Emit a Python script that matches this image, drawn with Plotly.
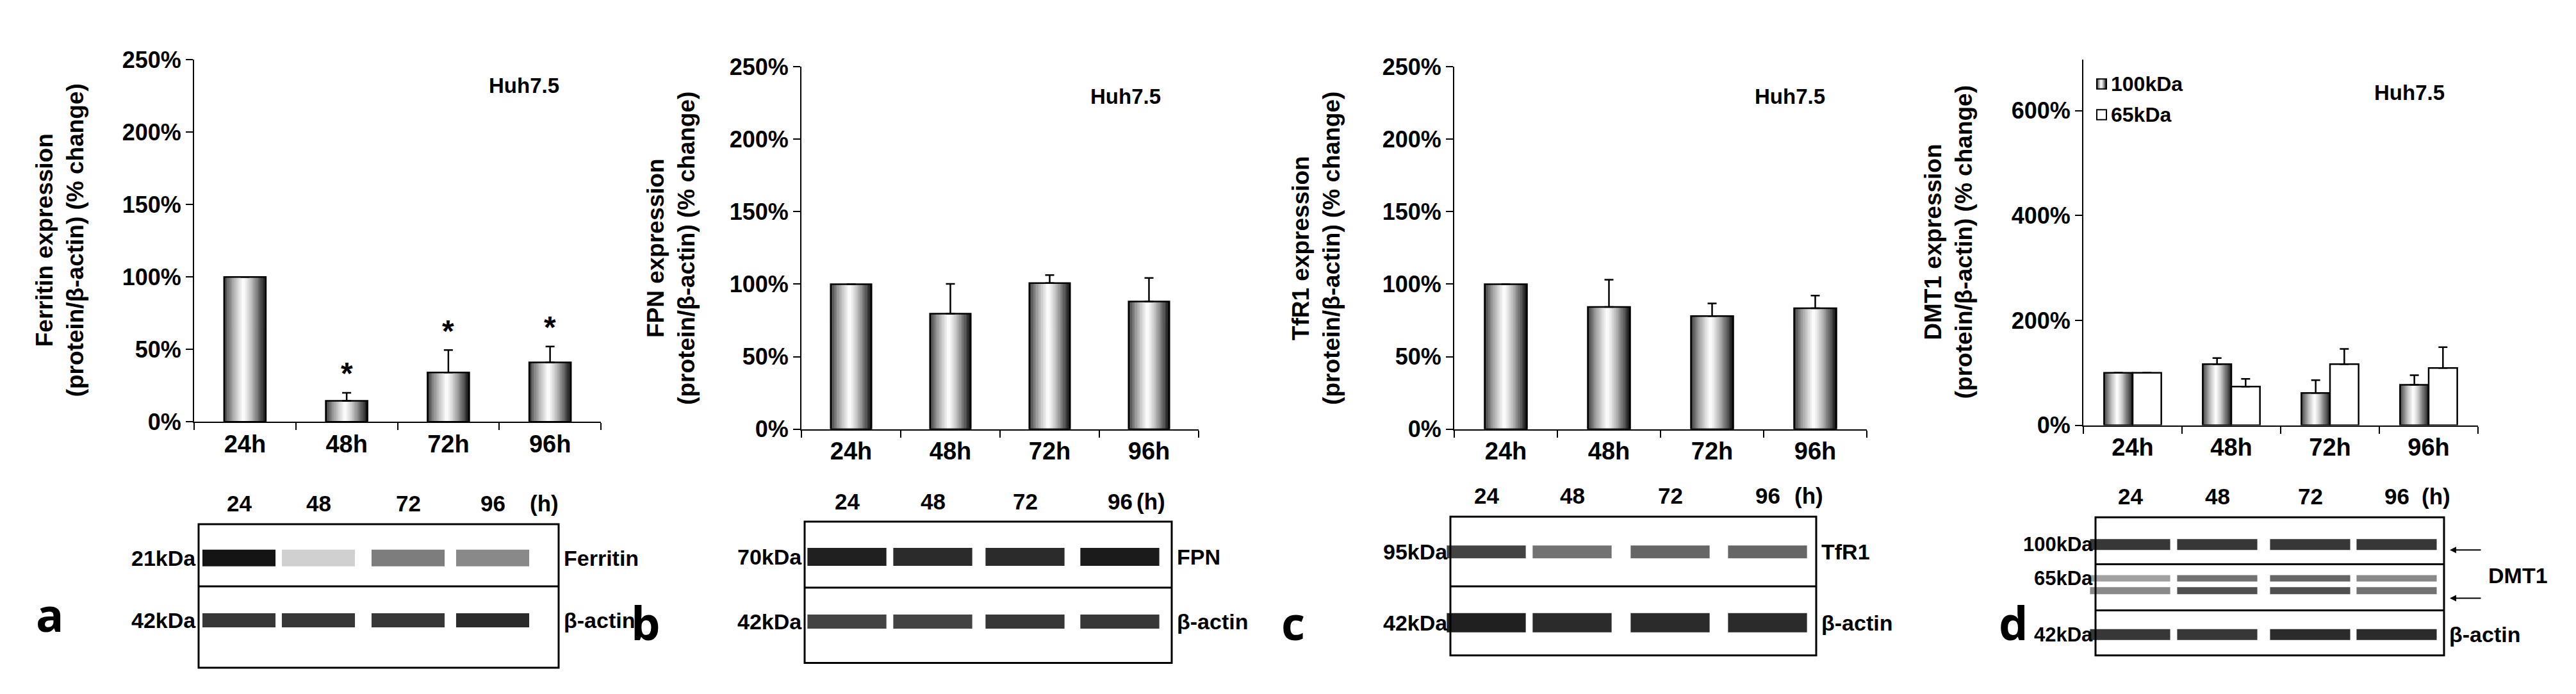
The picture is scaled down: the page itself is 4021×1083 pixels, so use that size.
import plotly.graph_objects as go

W, H = 4021, 1083

# ---- data ----
hours = ["24h", "48h", "72h", "96h"]
lanes = ["24", "48", "72", "96"]

ferritin = [100, 14.5, 34, 41]
ferritin_err = [0, 5.5, 15.5, 11]
fpn = [100, 79.6, 100.8, 88.1]
fpn_err = [0, 20.6, 5.5, 16.2]
tfr1 = [100, 84.3, 78, 83.4]
tfr1_err = [0, 18.8, 8.7, 8.7]
dmt1_100 = [100, 116.6, 61.5, 77]
dmt1_100_err = [0, 11.4, 24.3, 18.5]
dmt1_65 = [100, 73.7, 116.6, 109.3]
dmt1_65_err = [0, 14.6, 29, 39.7]
stars = ["", "*", "*", "*"]

# band intensities read from the blots (0..1)
blot_ferritin = [1.0, 0.2, 0.55, 0.5]
blot_fpn = [0.95, 0.9, 0.9, 0.97]
blot_tfr1 = [0.8, 0.6, 0.65, 0.65]
blot_dmt1_100 = [0.85, 0.85, 0.85, 0.85]
blot_dmt1_65a = [0.4, 0.6, 0.65, 0.5]
blot_dmt1_65b = [0.5, 0.75, 0.75, 0.6]
actin_a = [0.85, 0.85, 0.85, 0.9]
actin_b = [0.8, 0.8, 0.85, 0.85]
actin_c = [0.95, 0.9, 0.9, 0.9]
actin_d = [0.85, 0.85, 0.9, 0.9]

FONT = "Liberation Sans"
NARROW = "Liberation Sans Narrow, Liberation Sans"


def px(x):
    return x / W


def py(y):
    return 1 - y / H


def shade(t):
    # cylinder-like grey gradient: dark left, white ~45%, very dark right
    if t < 0.45:
        v = 0.2 + 0.8 * (t / 0.45) ** 0.7
    else:
        v = 1.0 - 0.92 * ((t - 0.45) / 0.55) ** 1.3
    g = int(255 * max(0, min(1, v)))
    return f"rgb({g},{g},{g})"


def label(x, y, text, size, family=FONT, anchor="center", **kw):
    d = dict(x=px(x), y=py(y), xref="paper", yref="paper", text=f"<b>{text}</b>",
             showarrow=False, xanchor=anchor, yanchor="middle",
             font=dict(size=size, family=family, color="black"))
    d.update(kw)
    return d


fig = go.Figure()

# panel: (axis suffix, x range px, y range px, ymax, dtick, ylabel)
panels = [
    ("", (295, 930), (67.7, 655), 250, 50, "Ferritin expression"),
    ("2", (1243, 1863), (79, 667), 250, 50, "FPN expression"),
    ("3", (2262, 2906), (79, 667), 250, 50, "TfR1 expression"),
    ("4", (3244, 3860), (67.7, 660.6), 697, 200, "DMT1 expression"),
]

xpos = list(range(len(hours)))


def grad_bars(ax, vals, err, offset, width, gradient=True, n=24):
    xa, ya = "x" + ax, "y" + ax
    if gradient:
        for i in range(n):
            fig.add_trace(go.Bar(
                x=xpos, y=vals, xaxis=xa, yaxis=ya,
                offset=offset + i * width / n, width=width / n + 0.002,
                marker=dict(color=shade(i / (n - 1)), line=dict(width=0)),
                hoverinfo="skip", showlegend=False))
    fig.add_trace(go.Bar(
        x=xpos, y=vals, xaxis=xa, yaxis=ya, offset=offset, width=width,
        marker=dict(color="rgba(255,255,255,0)" if gradient else "white",
                    line=dict(color="black", width=2.5)),
        error_y=dict(type="data", array=err, arrayminus=[0] * len(err),
                     symmetric=False, color="black", thickness=2.5, width=7),
        showlegend=False))


grad_bars("", ferritin, ferritin_err, -0.205, 0.41)
grad_bars("2", fpn, fpn_err, -0.205, 0.41)
grad_bars("3", tfr1, tfr1_err, -0.205, 0.41)
grad_bars("4", dmt1_100, dmt1_100_err, -0.29, 0.29)
grad_bars("4", dmt1_65, dmt1_65_err, 0.0, 0.29, gradient=False)

layout = dict(width=W, height=H, paper_bgcolor="white", plot_bgcolor="white",
              margin=dict(l=0, r=0, t=0, b=0), barmode="overlay",
              font=dict(family=FONT, color="black"))
annotations = []
shapes = []

for ax, (x0, x1), (y0, y1), ymax, dt, lab in panels:
    layout["xaxis" + ax] = dict(
        domain=[px(x0), px(x1)], range=[-0.5, 3.5], tickvals=xpos,
        ticktext=[f"<b>{h}</b>" for h in hours],
        showline=True, linecolor="black", linewidth=2, ticks="",
        showgrid=False, zeroline=False, anchor="y" + ax,
        tickfont=dict(size=38, family=FONT),
        minor=dict(tickvals=[-0.5, 0.5, 1.5, 2.5, 3.5], ticks="outside",
                   ticklen=11, tickwidth=2, tickcolor="black", showgrid=False))
    yt = list(range(0, int(ymax) + 1, dt))
    layout["yaxis" + ax] = dict(
        domain=[py(y1), py(y0)], range=[0, ymax], tickvals=yt,
        ticktext=[f"<b>{v}%</b>" for v in yt],
        showline=True, linecolor="black", linewidth=2, ticks="outside",
        ticklen=11, tickwidth=2, tickcolor="black", showgrid=False,
        zeroline=False, anchor="x" + ax,
        tickfont=dict(size=36, family=FONT))

# y titles and "Huh7.5"
ytitles = [(85, 361), (1040, 374), (2047, 374), (3033, 364)]
huh = [(810, 110), (1749, 127), (2786, 127), (3753, 121)]
for (ax, _, _, _, _, lab), (tx, ty), (hx, hy) in zip(panels, ytitles, huh):
    annotations.append(label(tx, ty, f"{lab}<br>(protein/β-actin) (% change)",
                             37, textangle=-90))
    annotations.append(label(hx, hy, "Huh7.5", 33))

# significance stars
for i, s in enumerate(stars):
    if s:
        annotations.append(dict(x=i, y=ferritin[i] + ferritin_err[i], xref="x",
                                yref="y", text=f"<b>{s}</b>", showarrow=False,
                                yshift=30, yanchor="middle",
                                font=dict(size=48, family=FONT)))

# DMT1 legend
for (ly, name, grad) in [(107, "100kDa", True), (157, "65kDa", False)]:
    lx0, lx1 = 3265, 3280
    if grad:
        n = 8
        for i in range(n):
            shapes.append(dict(type="rect", xref="paper", yref="paper",
                               x0=px(lx0 + i * (lx1 - lx0) / n),
                               x1=px(lx0 + (i + 1) * (lx1 - lx0) / n),
                               y0=py(ly + 8), y1=py(ly - 8),
                               fillcolor=shade(i / (n - 1)), line=dict(width=0)))
    shapes.append(dict(type="rect", xref="paper", yref="paper",
                       x0=px(lx0), x1=px(lx1), y0=py(ly + 8), y1=py(ly - 8),
                       line=dict(color="black", width=2)))
    annotations.append(label(lx1 + 5, ly, name, 32, anchor="left"))

# panel letters
for letter, lx, ly in [("a", 70, 967), ("b", 1000, 980), ("c", 2010, 980), ("d", 3135, 980)]:
    annotations.append(label(lx, ly, letter, 72, family="Open Sans"))

# western blots: box, rows (label left, label right, centre y, intensities, thickness)
blots = [
    dict(box=(302, 864, 821, 1054), div=[922], lab_y=787, fs=34,
         lane_x=[365, 489, 629, 761], h_x=841,
         rows=[("21kDa", "Ferritin", 876, blot_ferritin, 26),
               ("42kDa", "β-actin", 977, actin_a, 22)]),
    dict(box=(1248, 1821, 817, 1046), div=[924], lab_y=784, fs=34,
         lane_x=[1314, 1448, 1592, 1740], h_x=1788,
         rows=[("70kDa", "FPN", 874, blot_fpn, 28),
               ("42kDa", "β-actin", 979, actin_b, 22)]),
    dict(box=(2256, 2827, 809, 1034), div=[922], lab_y=775, fs=34,
         lane_x=[2312, 2446, 2599, 2751], h_x=2815,
         rows=[("95kDa", "TfR1", 866, blot_tfr1, 20),
               ("42kDa", "β-actin", 981, actin_c, 30)]),
    dict(box=(3263, 3807, 810, 1034), div=[886, 961], lab_y=776, fs=31,
         lane_x=[3317, 3453, 3598, 3733], h_x=3794,
         rows=[("100kDa", "", 854, blot_dmt1_100, 17),
               ("65kDa", "", 909, blot_dmt1_65a, 10),
               ("", "", 929, blot_dmt1_65b, 11),
               ("42kDa", "β-actin", 1000, actin_d, 17)]),
]

for b in blots:
    bx0, bx1, by0, by1 = b["box"]
    for lx, ln in zip(b["lane_x"], lanes):
        annotations.append(label(lx, b["lab_y"], ln, 35, family=NARROW))
    annotations.append(label(b["h_x"], b["lab_y"], "(h)", 35, family=NARROW))
    half = (b["lane_x"][1] - b["lane_x"][0]) * 0.46
    for left, right, cy, vals, thick in b["rows"]:
        for lx, v in zip(b["lane_x"], vals):
            g = int(255 * (1 - v * 0.92))
            shapes.append(dict(type="line", xref="paper", yref="paper",
                               x0=px(lx - half), x1=px(lx + half),
                               y0=py(cy), y1=py(cy),
                               line=dict(color=f"rgb({g},{g},{g})", width=thick)))
        if left:
            annotations.append(label(bx0 - 2, cy, left, b["fs"], family=NARROW, anchor="right"))
        if right:
            annotations.append(label(bx1 + 6, cy, right, 34, family=NARROW, anchor="left"))
    shapes.append(dict(type="rect", xref="paper", yref="paper",
                       x0=px(bx0), x1=px(bx1), y0=py(by1), y1=py(by0),
                       line=dict(color="black", width=3)))
    for dy in b["div"]:
        shapes.append(dict(type="line", xref="paper", yref="paper",
                           x0=px(bx0), x1=px(bx1), y0=py(dy), y1=py(dy),
                           line=dict(color="black", width=3)))

# DMT1 arrows and label
for ay in [863, 941]:
    annotations.append(dict(x=px(3816), y=py(ay), ax=50, ay=0,
                            xref="paper", yref="paper", text="", showarrow=True,
                            arrowhead=2, arrowsize=1, arrowwidth=2,
                            arrowcolor="black"))
annotations.append(label(3874, 904, "DMT1", 34, family=NARROW, anchor="left"))

layout["annotations"] = annotations
layout["shapes"] = shapes
fig.update_layout(**layout)

fig.write_html("out.html")
